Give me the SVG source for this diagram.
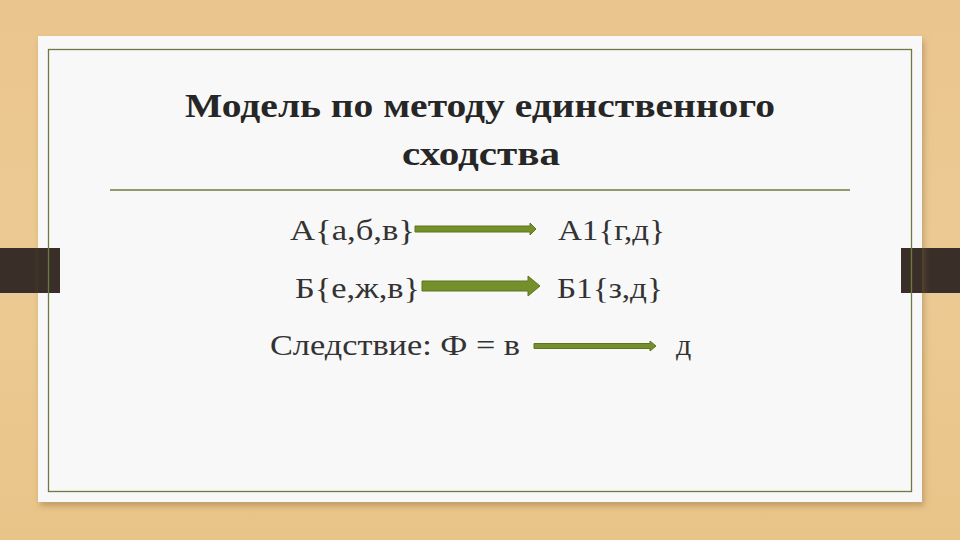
<svg xmlns="http://www.w3.org/2000/svg" width="960" height="540" viewBox="0 0 960 540">
<defs>
<linearGradient id="wood" x1="0" y1="0" x2="0" y2="1">
<stop offset="0" stop-color="#ebc58e"/>
<stop offset="0.5" stop-color="#ecca93"/>
<stop offset="1" stop-color="#e9c489"/>
</linearGradient>
<filter id="sh" x="-5%" y="-5%" width="110%" height="112%">
<feDropShadow dx="2" dy="4" stdDeviation="3" flood-color="#8a6a3a" flood-opacity="0.45"/>
</filter>
</defs>
<style>
.title{font-family:"Liberation Serif","DejaVu Serif",serif;font-weight:bold;font-size:34px;fill:#262626;text-anchor:middle}
.body{font-family:"Liberation Serif","DejaVu Serif",serif;font-size:30px;fill:#333333}
.arrow{fill:#75902a;stroke:#5e7420;stroke-width:1}
.tab{fill:#3a2f28}
.rule{stroke:#6e7b40;stroke-width:1.3}
</style>
<rect x="0" y="0" width="960" height="540" fill="url(#wood)"/>
<rect class="tab" x="0" y="248" width="60" height="45"/>
<rect class="tab" x="901" y="248" width="59" height="45"/>
<rect x="38" y="36" width="884" height="466" fill="#f8f8f8" filter="url(#sh)"/>
<rect class="tab" x="38" y="248" width="22" height="45"/>
<rect class="tab" x="901" y="248" width="21" height="45"/>
<rect class="rule" x="48.5" y="49.5" width="863" height="442" fill="none"/>
<line class="rule" x1="110" y1="190" x2="850" y2="190"/>
<g id="title">
<text class="title" x="480" y="117" textLength="590" lengthAdjust="spacingAndGlyphs">Модель по методу единственного</text>
<text class="title" x="481" y="165" textLength="158" lengthAdjust="spacingAndGlyphs">сходства</text>
</g>
<g id="nodeA">
<text class="body" x="290" y="240" textLength="125" lengthAdjust="spacingAndGlyphs">А{а,б,в}</text>
</g>
<g id="nodeA1">
<text class="body" x="558" y="240" textLength="107" lengthAdjust="spacingAndGlyphs">А1{г,д}</text>
</g>
<g id="nodeB">
<text class="body" x="295" y="298" textLength="125" lengthAdjust="spacingAndGlyphs">Б{е,ж,в}</text>
</g>
<g id="nodeB1">
<text class="body" x="557" y="298" textLength="106" lengthAdjust="spacingAndGlyphs">Б1{з,д}</text>
</g>
<g id="nodeC">
<text class="body" x="270" y="355" textLength="250" lengthAdjust="spacingAndGlyphs">Следствие: Ф = в</text>
</g>
<g id="nodeD">
<text class="body" x="676" y="355">д</text>
</g>
<g id="connectors">
<path class="arrow" d="M415,226 L530,226 L530,223 L536,229 L530,235 L530,232 L415,232 z"/>
<path class="arrow" d="M422,281 L528,281 L528,276 L540,286 L528,296 L528,291 L422,291 z"/>
<path class="arrow" d="M534,343.5 L650,343.5 L650,341 L656,346 L650,351 L650,348.5 L534,348.5 z"/>
</g>
</svg>
